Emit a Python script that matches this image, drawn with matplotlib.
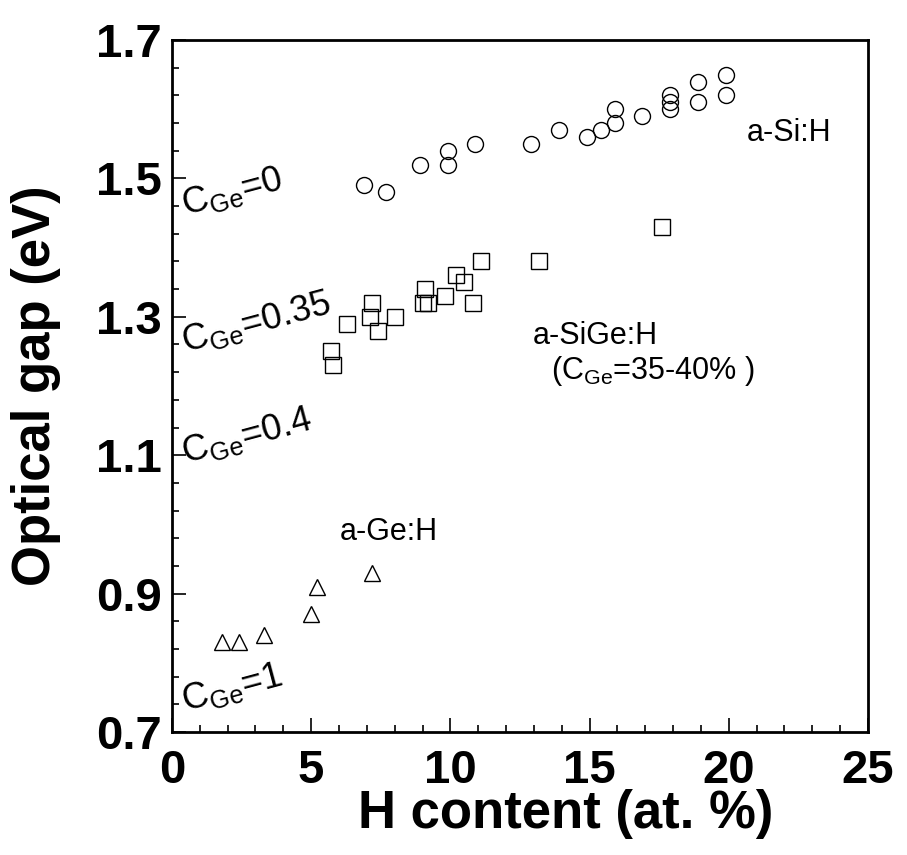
import matplotlib
matplotlib.use('Agg')
import matplotlib.pyplot as plt
from matplotlib.ticker import MultipleLocator

plt.rcParams['font.family'] = ['Liberation Sans', 'DejaVu Sans']
plt.rcParams['mathtext.fontset'] = 'custom'
plt.rcParams['mathtext.rm'] = 'Liberation Sans'

# a-Si:H (C_Ge = 0)
h_si = [6.9, 7.7, 8.9, 9.9, 9.9, 10.9, 12.9, 13.9, 14.9, 15.4, 15.9, 15.9,
        16.9, 17.9, 17.9, 17.9, 18.9, 18.9, 19.9, 19.9]
eg_si = [1.49, 1.48, 1.52, 1.54, 1.52, 1.55, 1.55, 1.57, 1.56, 1.57, 1.60, 1.58,
         1.59, 1.62, 1.61, 1.60, 1.64, 1.61, 1.65, 1.62]

# a-SiGe:H (C_Ge = 35-40 %)
h_sige = [5.7, 5.8, 6.3, 7.2, 7.1, 7.4, 8.0, 9.1, 9.0, 9.2, 9.8, 10.2,
          10.5, 10.8, 11.1, 13.2, 17.6]
eg_sige = [1.25, 1.23, 1.29, 1.32, 1.30, 1.28, 1.30, 1.34, 1.32, 1.32, 1.33, 1.36,
           1.35, 1.32, 1.38, 1.38, 1.43]

# a-Ge:H (C_Ge = 1)
h_ge = [1.8, 2.4, 3.3, 5.0, 5.2, 7.2]
eg_ge = [0.83, 0.83, 0.84, 0.87, 0.91, 0.93]

# rotated composition labels: (x, y, text)
cge_labels = [
    (0.45, 1.447, r'C$_{\mathregular{Ge}}$=0'),
    (0.45, 1.249, r'C$_{\mathregular{Ge}}$=0.35'),
    (0.45, 1.089, r'C$_{\mathregular{Ge}}$=0.4'),
    (0.45, 0.730, r'C$_{\mathregular{Ge}}$=1'),
]

y_ticks = [0.7, 0.9, 1.1, 1.3, 1.5, 1.7]

fig = plt.figure(figsize=(9.07, 8.55), dpi=100)
ax = fig.add_axes([0.1896, 0.1439, 0.7674, 0.8093])

mk = dict(linestyle='none', markerfacecolor='none', markeredgecolor='black',
          markeredgewidth=1.0)
ax.plot(h_si, eg_si, marker='o', markersize=11.5, **mk)
ax.plot(h_sige, eg_sige, marker='s', markersize=11, **mk)
ax.plot(h_ge, eg_ge, marker='^', markersize=11, **mk)

for x, y, s in cge_labels:
    ax.text(x, y, s, fontsize=26, rotation=15, rotation_mode='anchor',
            ha='left', va='baseline')

ax.text(20.65, 1.566, 'a-Si:H', fontsize=22, va='center')
ax.text(12.97, 1.272, 'a-SiGe:H', fontsize=22, va='center')
ax.text(13.6, 1.222, r'(C$_{\mathregular{Ge}}$=35-40% )', fontsize=22, va='center')
ax.text(6.03, 0.989, 'a-Ge:H', fontsize=22, va='center')

ax.set_xlim(0, 25)
ax.set_ylim(0.7, 1.7)
ax.xaxis.set_major_locator(MultipleLocator(5))
ax.xaxis.set_minor_locator(MultipleLocator(1))
ax.set_yticks(y_ticks)
ax.set_yticklabels([f'{v:.1f}' for v in y_ticks])
ax.yaxis.set_minor_locator(MultipleLocator(0.04, offset=0.02))

ax.tick_params(which='both', direction='in', width=1.2)
ax.tick_params(which='major', length=10)
ax.tick_params(which='minor', length=5)
ax.tick_params(axis='x', pad=12, labelsize=34)
ax.tick_params(axis='y', pad=7, labelsize=34)
for lab in ax.get_xticklabels() + ax.get_yticklabels():
    lab.set_fontweight('bold')
for sp in ax.spines.values():
    sp.set_linewidth(2.0)

ax.set_xlabel('H content (at. %)', fontsize=38, fontweight='bold')
ax.set_ylabel('Optical gap (eV)', fontsize=38, fontweight='bold')
ax.xaxis.set_label_coords(0.566, -0.082)
ax.yaxis.set_label_coords(-0.16, 0.5)

fig.savefig('out.png', dpi=100)
